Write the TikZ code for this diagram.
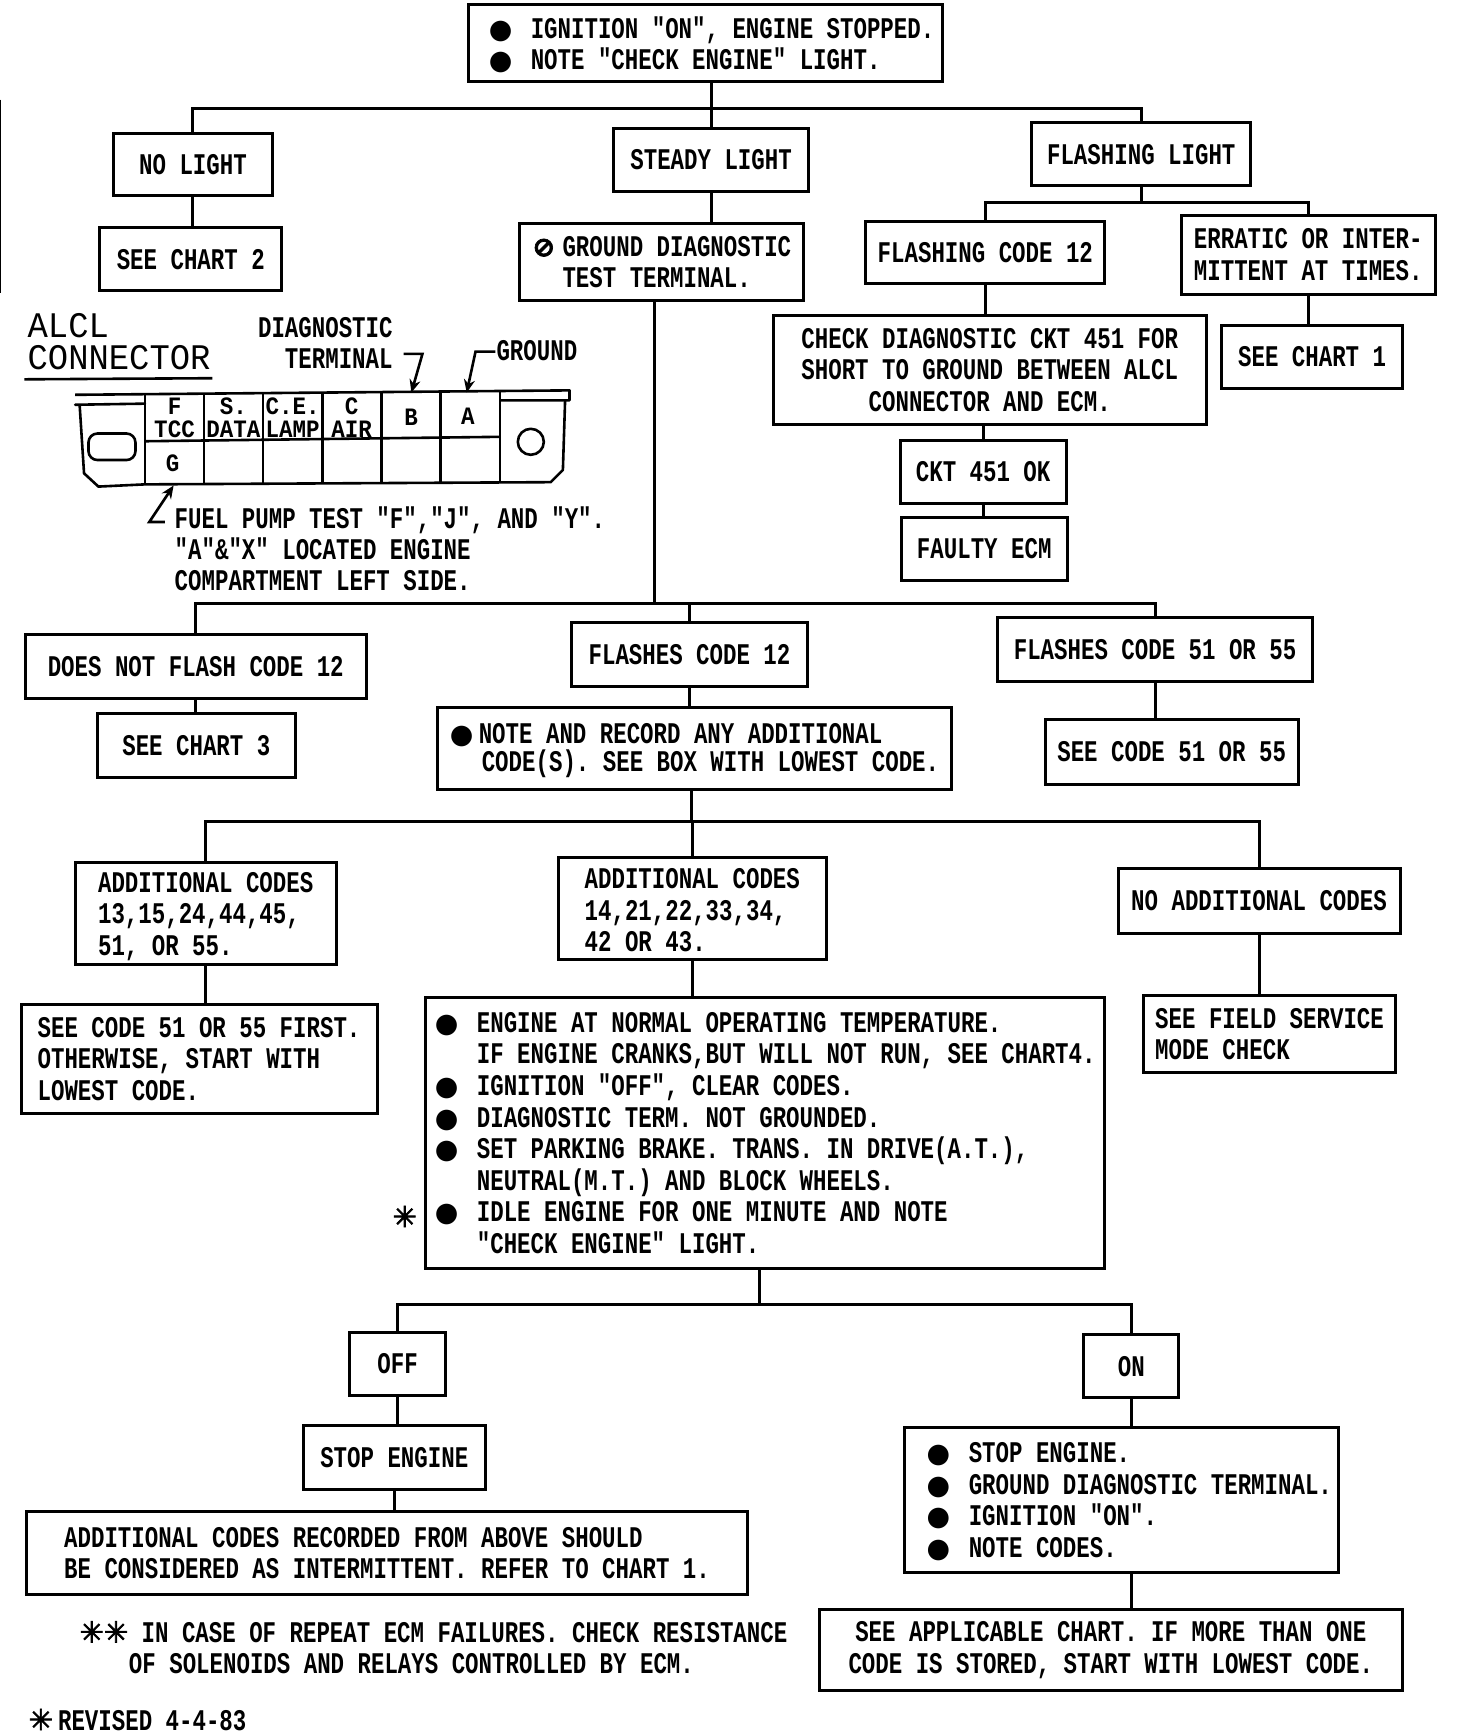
\documentclass[tikz,border=0pt]{standalone}
\usepackage{fontspec}
\usetikzlibrary{arrows.meta}
\newfontfamily\cadfont[FakeStretch=0.747]{Liberation Mono}[BoldFont={Liberation Mono Bold}]
\newfontfamily\pinfont[FakeStretch=0.9]{Liberation Mono}[BoldFont={Liberation Mono Bold}]
\newfontfamily\bigfont[FakeStretch=0.94]{Liberation Mono}
\newfontfamily\symfont{DejaVu Sans}
\newfontfamily\starfont[FakeBold=2.5]{DejaVu Sans}
\newcommand\cadtext{\cadfont\bfseries\fontsize{30}{31.6}\selectfont}
\newcommand\blob{\smash{\symfont\fontsize{27}{27}\selectfont ●}}
\newcommand\bul{\makebox[42pt][l]{\blob}}
\newcommand\nobul{\hspace*{42pt}}
\newcommand\aster{{\starfont\fontsize{29}{29}\selectfont ✳}}
\newcommand\dn[1]{\rule{0pt}{#1pt}}
\tikzset{
  box/.style={draw=black,line width=3pt,inner sep=0pt,outer sep=0pt,align=left,font=\cadtext,text=black},
  cbox/.style={box,align=center},
  conn/.style={draw=black,line width=3pt},
  free/.style={inner sep=0pt,outer sep=0pt,align=left,font=\cadtext,text=black},
  pin/.style={free,align=center,font=\pinfont\bfseries\fontsize{25}{23}\selectfont},
  part/.style={draw=black,line width=2.6pt,line join=round},
  lead/.style={draw=black,line width=2.6pt,-{Stealth[length=13pt,width=11pt]}},
}
\newcommand\bx[7][box]{\node[#1,minimum width={(#5-#3)*1.1055pt},minimum height={(#6-#4)*1.1055pt}] (#2) at ({(#3+#5)/2},{(#4+#6)/2}) {#7};}
\newcommand\vc[2]{\draw[conn] (#1.south) -- (#1.south |- #2.north);}
\begin{document}
\begin{tikzpicture}[x=1.1055pt,y=-1.1055pt]
\useasboundingbox (0,0) rectangle (1317,1568);
\fill[white] (0,0) rectangle (1317,1568);
\draw[line width=1.5pt] (0.5,90) -- (0.5,265);

\bx{top}{424}{4}{852}{74}{\hspace*{12pt}\bul IGNITION "ON", ENGINE STOPPED.\\\hspace*{12pt}\bul NOTE "CHECK ENGINE" LIGHT.}
\bx[cbox]{nolight}{103}{121}{246}{177}{NO LIGHT}
\bx[cbox]{chartb}{90}{206}{255}{263}{SEE CHART 2}
\bx[cbox]{steady}{555}{116}{731}{173}{STEADY LIGHT}
\bx[cbox]{flashl}{933}{111}{1131}{168}{FLASHING LIGHT}
\bx{ground}{470}{202}{727}{272}{\makebox[30pt][l]{\smash{\starfont\fontsize{27}{27}\selectfont ⊘}}GROUND DIAGNOSTIC\\\hspace*{30pt}TEST TERMINAL.}
\bx[cbox]{flash}{783}{200}{999}{256}{FLASHING CODE 12}
\bx{erratic}{1068}{195}{1298}{266}{ERRATIC OR INTER-\\MITTENT AT TIMES.}
\bx[cbox]{check}{699}{285}{1091}{384}{CHECK DIAGNOSTIC CKT 451 FOR\\SHORT TO GROUND BETWEEN ALCL\\CONNECTOR AND ECM.}
\bx[cbox]{charta}{1105}{294}{1268}{351}{SEE CHART 1}
\bx[cbox]{ckt}{814}{398}{964}{455}{CKT 451 OK}
\bx[cbox]{faulty}{815}{468}{965}{525}{FAULTY ECM}

\bx[cbox]{dnf}{23}{574}{331}{632}{DOES NOT FLASH CODE 12}
\bx[cbox]{chartc}{88}{645}{267}{703}{SEE CHART 3}
\bx[cbox]{fc}{517}{563}{730}{621}{FLASHES CODE 12}
\bx[cbox]{fl}{902}{558}{1187}{616}{FLASHES CODE 51 OR 55}
\bx[cbox]{sl}{945}{651}{1174}{709}{SEE CODE 51 OR 55}
\bx{note}{396}{640}{860}{714}{\dn{24}\makebox[29pt][l]{\blob}NOTE AND RECORD ANY ADDITIONAL\\[-3pt]\hspace*{32pt}CODE(S). SEE BOX WITH LOWEST CODE.}

\bx{adda}{68}{780}{304}{872}{\dn{26}ADDITIONAL CODES\\13,15,24,44,45,\\51, OR 55.}
\bx{addb}{505}{775}{747}{868}{\dn{24}ADDITIONAL CODES\\14,21,22,33,34,\\42 OR 43.}
\bx[cbox]{addn}{1011}{785}{1266}{844}{NO ADDITIONAL CODES}
\bx{first}{19}{908}{341}{1007}{SEE CODE 51 OR 55 FIRST.\\OTHERWISE, START WITH\\LOWEST CODE.}
\bx{big}{385}{902}{999}{1147}{\bul ENGINE AT NORMAL OPERATING TEMPERATURE.\\\nobul IF ENGINE CRANKS,BUT WILL NOT RUN, SEE CHART4.\\\bul IGNITION "OFF", CLEAR CODES.\\\bul DIAGNOSTIC TERM. NOT GROUNDED.\\\bul SET PARKING BRAKE. TRANS. IN DRIVE(A.T.),\\\nobul NEUTRAL(M.T.) AND BLOCK WHEELS.\\\bul IDLE ENGINE FOR ONE MINUTE AND NOTE\\\nobul "CHECK ENGINE" LIGHT.}
\bx{field}{1034}{900}{1262}{970}{SEE FIELD SERVICE\\MODE CHECK}

\bx[cbox]{off}{316}{1205}{403}{1262}{OFF}
\bx[cbox]{on}{980}{1207}{1066}{1264}{ON}
\bx[cbox]{stop}{274}{1289}{439}{1347}{STOP ENGINE}
\bx{intermit}{24}{1367}{676}{1442}{ADDITIONAL CODES RECORDED FROM ABOVE SHOULD\\BE CONSIDERED AS INTERMITTENT. REFER TO CHART 1.}
\bx{list}{818}{1291}{1210}{1422}{\hspace*{16pt}\bul STOP ENGINE.\\\hspace*{16pt}\bul GROUND DIAGNOSTIC TERMINAL.\\\hspace*{16pt}\bul IGNITION "ON".\\\hspace*{16pt}\bul NOTE CODES.}
\bx[cbox]{applic}{741}{1455}{1268}{1529}{SEE APPLICABLE CHART. IF MORE THAN ONE\\CODE IS STORED, START WITH LOWEST CODE.}

% connectors
\coordinate (busa) at (643,98);
\draw[conn] (top.south -| steady.north) -- (steady.north);
\draw[conn] (nolight.north) |- (busa) -| (flashl.north);
\vc{nolight}{chartb}
\vc{steady}{ground}
\coordinate (busb) at (1032,183);
\draw[conn] (flashl.south) -- (busb);
\draw[conn] (flash.north) |- (busb) -| (erratic.north);
\vc{flash}{check}
\draw[conn] (ckt.north |- check.south) -- (ckt.north);
\vc{ckt}{faulty}
\vc{erratic}{charta}
\coordinate (trunk) at (592,546);
\draw[conn] (ground.south -| trunk) -- (trunk);
\draw[conn] (dnf.north) |- (trunk) -| (fl.north);
\draw[conn] (fc.north) -- (fc.north |- trunk);
\vc{dnf}{chartc}
\vc{fc}{note}
\vc{fl}{sl}
\coordinate (busc) at (625,743);
\draw[conn] (note.south -| busc) -- (busc);
\draw[conn] (adda.north) |- (busc) -| (addn.north);
\draw[conn] (addb.north) -- (addb.north |- busc);
\vc{adda}{first}
\vc{addb}{big}
\vc{addn}{field}
\coordinate (busd) at (687,1180);
\draw[conn] (big.south -| busd) -- (busd);
\draw[conn] (off.north) |- (busd) -| (on.north);
\vc{off}{stop}
\vc{stop}{intermit}
\vc{on}{list}
\draw[conn] (applic.north -| on.south) -- (list.south -| on.south);

% ALCL connector
\node[free,font=\bigfont\fontsize{36}{32}\selectfont] (alcl) at (25,309) [anchor=west] {ALCL\\CONNECTOR};
\coordinate (ula) at (22,343); \coordinate (ulb) at (192,342);
\draw[part] (ula) -- (ulb);
\node[free,align=right,anchor=east] (diag) at (355,310) {DIAGNOSTIC\\TERMINAL};
\node[free,anchor=west] (gnd) at (449,317) {GROUND};
\draw[part] (68,357) -- (515,353) -- (515,362) -- (452,362) (131,365) -- (68,366) -- cycle;
\draw[part] (72,366) -- (76,428) -- (89,440) -- (131,438) -- (498,436) -- (509,425) -- (511,362);
\foreach \xa/\ya/\yb in {131/357/438,184.5/357/438,238/356/438,291.5/355/437,345/355/437,398.5/354/437,452/353/436}
  \draw[part] (\xa,\ya) -- (\xa,\yb);
\draw[part] (131,399) -- (452,395);
\draw[part,rounded corners=9pt] (80,392) rectangle (122.5,416);
\draw[part] (480,399.5) circle (13pt);
\node[pin] (pf) at (157.8,378) {F\\TCC};
\node[pin] (ps) at (211,378) {S.\\DATA};
\node[pin] (pc) at (264.7,378) {C.E.\\LAMP};
\node[pin] (pair) at (318,378) {C\\AIR};
\node[pin] (pb) at (371.7,377) {B};
\node[pin] (pa) at (423,376) {A};
\node[pin] (pg) at (156,419) {G};
\coordinate (da) at (365,320); \coordinate (db) at (382,320); \coordinate (dc) at (372,355);
\draw[lead] (da) -- (db) -- (dc);
\coordinate (ga) at (448,318); \coordinate (gb) at (430,318); \coordinate (gc) at (422,355);
\draw[lead] (ga) -- (gb) -- (gc);
\coordinate (fa) at (149,472); \coordinate (fb) at (135,472); \coordinate (fc2) at (157,439);
\draw[lead] (fa) -- (fb) -- (fc2);
\node[free,anchor=west,font=\cadfont\bfseries\fontsize{30}{31}\selectfont] (fuel) at (158,496) {FUEL PUMP TEST "F","J", AND "Y".\\"A"\&"X" LOCATED ENGINE\\COMPARTMENT LEFT SIDE.};

% notes
\node[free,anchor=center] (star) at (366,1100) {\aster};
\node[free,align=center,anchor=center] (repeat) at (392,1490) {\aster\aster\ IN CASE OF REPEAT ECM FAILURES. CHECK RESISTANCE\\OF SOLENOIDS AND RELAYS CONTROLLED BY ECM.\hspace*{44pt}};
\node[free,anchor=west] (revised) at (26,1555) {\aster\,REVISED 4-4-83};
\end{tikzpicture}
\end{document}
